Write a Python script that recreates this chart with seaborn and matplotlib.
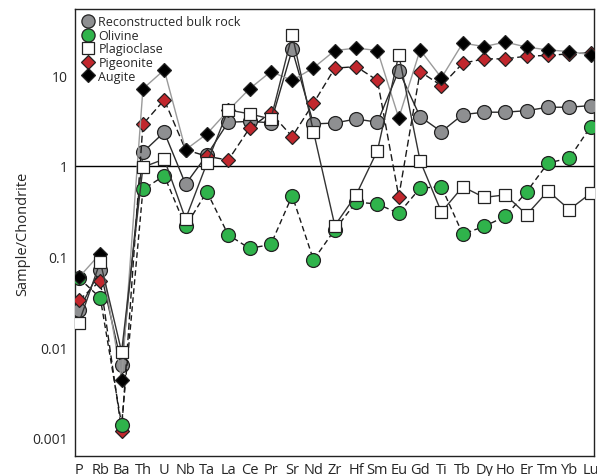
import matplotlib
matplotlib.use("Agg")
import matplotlib.pyplot as plt
import numpy as np
import pandas as pd
import seaborn as sns
from matplotlib.lines import Line2D

elements = ["P", "Rb", "Ba", "Th", "U", "Nb", "Ta", "La", "Ce", "Pr", "Sr", "Nd", "Zr",
            "Hf", "Sm", "Eu", "Gd", "Ti", "Tb", "Dy", "Ho", "Er", "Tm", "Yb", "Lu"]

bulk_rock = [0.026, 0.071, 0.0064, 1.42, 2.36, 0.63, 1.32, 3.04, 3.1, 3.0, 19.3, 2.91, 2.98,
             3.3, 3.04, 11.3, 3.5, 2.39, 3.69, 3.92, 3.92, 4.08, 4.45, 4.45, 4.64]
olivine = [0.058, 0.035, 0.0014, 0.55, 0.78, 0.215, 0.52, 0.174, 0.123, 0.136, 0.47, 0.092, 0.198,
           0.40, 0.38, 0.30, 0.57, 0.59, 0.177, 0.215, 0.278, 0.52, 1.08, 1.22, 2.72]
plagioclase = [0.0187, 0.088, 0.0089, 0.97, 1.19, 0.26, 1.07, 4.16, 3.76, 3.3, 28.2, 2.39, 0.22,
               0.48, 1.48, 16.9, 1.14, 0.31, 0.59, 0.45, 0.48, 0.29, 0.53, 0.33, 0.50]
pigeonite = [0.033, 0.054, 0.0012, 2.89, 5.36, 1.51, 1.28, 1.16, 2.61, 3.85, 2.11, 4.93, 12.0,
             12.5, 8.8, 0.46, 11.0, 7.7, 13.6, 15.2, 15.2, 16.3, 16.6, 17.3, 17.7]
augite = [0.059, 0.108, 0.0044, 7.1, 11.5, 1.51, 2.26, 4.1, 7.1, 11.0, 8.8, 12.1, 18.8,
          20.0, 18.8, 3.39, 19.1, 9.4, 22.7, 20.8, 23.3, 20.5, 19.1, 18.3, 16.9]

# name, values, marker, face, line colour, dash, marker size, z-order
series = [
    ("Reconstructed bulk rock", bulk_rock, "o", "#8e8f91", "#2a2a2a", "-", 10, 3),
    ("Olivine", olivine, "o", "#2fb34b", "#1a1a1a", (0, (4, 2.5)), 10, 5),
    ("Plagioclase", plagioclase, "s", "white", "#333333", "-", 9, 7),
    ("Pigeonite", pigeonite, "D", "#c1272d", "#1a1a1a", (0, (5, 2.5)), 7.5, 4),
    ("Augite", augite, "D", "black", "#9a9a9a", "-", 7.5, 6),
]

sns.set_theme(style="white")
plt.rcParams["font.family"] = ["Open Sans", "DejaVu Sans"]

fig = plt.figure(figsize=(5.97, 4.77), dpi=100)
ax = fig.add_axes([74.7 / 597, 1 - 457.3 / 477, (594.3 - 74.7) / 597, (457.3 - 10) / 477])

x = np.arange(len(elements))
ax.axhline(1, color="black", lw=1.0, zorder=1)

handles = []
for name, vals, marker, face, lcolor, dash, ms, z in series:
    df = pd.DataFrame({"x": x, "y": vals})
    sns.lineplot(data=df, x="x", y="y", ax=ax, color=lcolor, lw=1.0, linestyle=dash,
                 marker=marker, markersize=ms, markerfacecolor=face,
                 markeredgecolor="#222222", markeredgewidth=0.9, zorder=z, legend=False)
    handles.append(Line2D([], [], linestyle="none", marker=marker, markersize=ms * 0.95,
                          markerfacecolor=face, markeredgecolor="#222222",
                          markeredgewidth=0.9, label=name))

ax.set_yscale("log")
ax.set_ylim(0.000625, 54)
ax.set_xlim(-0.2, 24.17)
ax.set_yticks([0.001, 0.01, 0.1, 1, 10])
ax.set_yticklabels(["0.001", "0.01", "0.1", "1", "10"])
ax.yaxis.set_minor_locator(matplotlib.ticker.NullLocator())
ax.set_xticks(x)
ax.set_xticklabels(elements)
ax.tick_params(axis="x", direction="in", length=4, width=0.8, color="#333333",
               labelsize=10.5, pad=4)
ax.tick_params(axis="y", length=0, labelsize=10, pad=5)
ax.set_xlabel("")
ax.set_ylabel("Sample/Chondrite", fontsize=10.5, labelpad=1)
for s in ax.spines.values():
    s.set_color("#222222")
    s.set_linewidth(1.0)
ax.grid(False)

ax.legend(handles=handles, loc="upper left", frameon=False, fontsize=9,
          handletextpad=0.2, labelspacing=0.05, borderaxespad=0.3, handlelength=1.2,
          borderpad=0.2)

fig.savefig("out.png", dpi=100)
